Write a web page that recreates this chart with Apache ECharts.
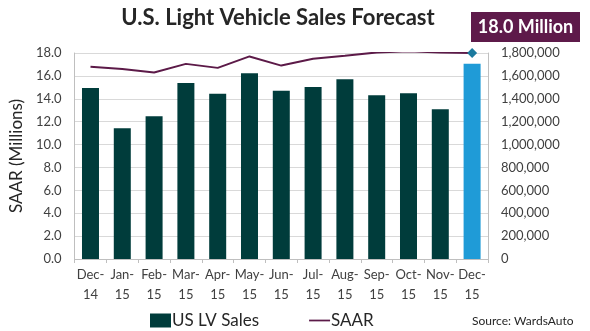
<!DOCTYPE html>
<html>
<head>
<meta charset="utf-8">
<script src="https://cdn.jsdelivr.net/npm/echarts@6/dist/echarts.min.js"></script>
<style>
html,body{margin:0;padding:0;background:#fff;}
#chart{width:590px;height:331px;}
</style>
</head>
<body>
<div id="chart"></div>
<script>
var categories = ['Dec-14','Jan-15','Feb-15','Mar-15','Apr-15','May-15','Jun-15','Jul-15','Aug-15','Sep-15','Oct-15','Nov-15','Dec-15'];
var salesValues = [1495000,1142000,1247000,1538000,1445000,1623000,1471000,1503000,1571000,1431000,1448000,1308000,1705000];
var saarValues = [16.8,16.6,16.3,17.05,16.7,17.7,16.9,17.5,17.75,18.05,18.15,18.05,18.0];
var leftTicks = {min:0, max:18, interval:2};
var rightTicks = {min:0, max:1800000, interval:200000};
var forecastLabel = '18.0 Million';

var FONT = 'Lato, "Open Sans", sans-serif';
var chart = echarts.init(document.getElementById('chart'));

var barData = salesValues.map(function(v, i){
  if (i === salesValues.length - 1) return {value: v, itemStyle:{color:'#1f9bd7'}};
  return v;
});
var lineData = saarValues.map(function(v, i){
  if (i === saarValues.length - 1) return {value: v, symbol:'diamond', symbolSize:10, itemStyle:{color:'#1b7a9e'}};
  return v;
});

chart.setOption({
  animation:false,
  textStyle:{fontFamily:FONT},
  title:{
    text:'U.S. Light Vehicle Sales Forecast',
    left:273, top:2, textAlign:'center',
    textStyle:{fontFamily:FONT, fontSize:22, fontWeight:'bold', color:'#262626'}
  },
  grid:{left:62, right:102, top:53, bottom:72},
  legend:{
    left:145, top:307,
    itemGap:50,
    itemWidth:21, itemHeight:14,
    textStyle:{fontFamily:FONT, fontSize:17, color:'#262626', padding:[0,0,0,-4]},
    data:[
      {name:'US LV Sales', icon:'rect'},
      {name:'SAAR', icon:'path://M0,0H24V2H0Z'}
    ]
  },
  xAxis:{
    type:'category',
    data:categories,
    axisLine:{lineStyle:{color:'#bfbfbf'}},
    axisTick:{show:true, length:4, lineStyle:{color:'#bfbfbf'}},
    axisLabel:{
      interval:0, fontFamily:FONT, fontSize:13, color:'#404040', lineHeight:20, margin:6,
      formatter:function(v){ var p=v.split('-'); return p[0]+'-\n'+p[1]; }
    }
  },
  yAxis:[
    {
      type:'value', min:leftTicks.min, max:leftTicks.max, interval:leftTicks.interval,
      name:'SAAR (Millions)', nameLocation:'middle', nameGap:46,
      nameTextStyle:{fontFamily:FONT, fontSize:17, color:'#262626'},
      axisLine:{show:true, lineStyle:{color:'#bfbfbf'}},
      axisTick:{show:false},
      splitLine:{lineStyle:{color:'#d9d9d9'}},
      axisLabel:{fontFamily:FONT, fontSize:13, color:'#404040', margin:13,
        formatter:function(v){ return v.toFixed(1); }}
    },
    {
      type:'value', min:rightTicks.min, max:rightTicks.max, interval:rightTicks.interval,
      position:'right',
      axisLine:{show:true, lineStyle:{color:'#bfbfbf'}},
      axisTick:{show:false},
      splitLine:{show:false},
      axisLabel:{fontFamily:FONT, fontSize:13, color:'#404040', margin:13,
        formatter:function(v){ return v.toString().replace(/\B(?=(\d{3})+(?!\d))/g, ','); }}
    }
  ],
  series:[
    {
      name:'US LV Sales', type:'bar', yAxisIndex:1, data:barData,
      barWidth:17,
      itemStyle:{color:'#003c3b'}
    },
    {
      name:'SAAR', type:'line', yAxisIndex:0, data:lineData,
      symbol:'none', showSymbol:true,
      lineStyle:{color:'#5c1a48', width:2},
      itemStyle:{color:'#5c1a48'},
      z:5
    }
  ],
  graphic:[
    {type:'rect', left:471, top:12, shape:{width:109, height:30}, style:{fill:'#5e1a4a'}, z:10},
    {type:'text', x:525.5, y:27, style:{text:forecastLabel, fill:'#ffffff', font:'bold 18px '+FONT, align:'center', verticalAlign:'middle'}, z:11},
    {type:'text', left:472, top:315, style:{text:'Source: WardsAuto', fill:'#262626', font:'12px '+FONT}, z:11}
  ]
});
</script>
</body>
</html>
